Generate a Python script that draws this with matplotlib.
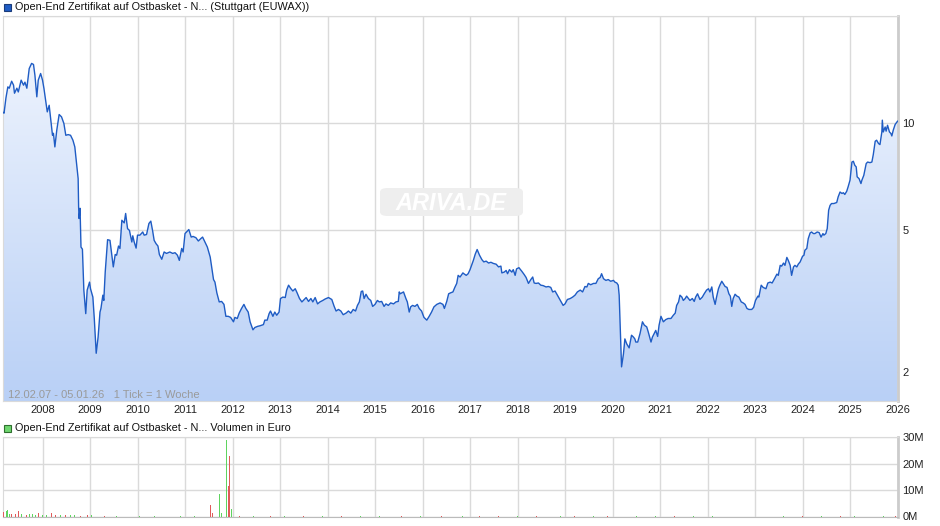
import numpy as np
import matplotlib
matplotlib.use('Agg')
import matplotlib.pyplot as plt
from matplotlib.colors import LinearSegmentedColormap
from matplotlib.patches import Rectangle, FancyBboxPatch

plt.rcParams['font.family'] = ['Liberation Sans', 'DejaVu Sans']

# weekly closing prices (decimal year, EUR)
years_07_10 = [2007.17, 2007.19, 2007.23, 2007.27, 2007.30, 2007.35, 2007.39, 2007.41, 2007.46, 2007.49, 2007.55, 2007.60, 2007.63, 2007.67, 2007.72, 2007.77, 2007.81, 2007.84, 2007.88, 2007.91, 2007.96,
               2008.00, 2008.03, 2008.07, 2008.10, 2008.14, 2008.18, 2008.21, 2008.23, 2008.26, 2008.30, 2008.35, 2008.40, 2008.45, 2008.49, 2008.54, 2008.59, 2008.64, 2008.68, 2008.72, 2008.75, 2008.76, 2008.77, 2008.79, 2008.81, 2008.84, 2008.87, 2008.91, 2008.94, 2008.99,
               2009.01, 2009.06, 2009.09, 2009.13, 2009.17, 2009.21, 2009.23, 2009.27, 2009.29, 2009.32, 2009.37, 2009.42, 2009.46, 2009.49, 2009.53, 2009.56, 2009.60, 2009.63, 2009.67, 2009.72, 2009.75, 2009.79, 2009.83, 2009.88, 2009.90, 2009.93, 2009.97,
               2010.00, 2010.05, 2010.11, 2010.14, 2010.19, 2010.24, 2010.28, 2010.32, 2010.35, 2010.39, 2010.43, 2010.46, 2010.51, 2010.56, 2010.61, 2010.68, 2010.74, 2010.79, 2010.84, 2010.88, 2010.93, 2010.96]
price_07_10 = [10.72, 10.67, 11.78, 12.65, 12.54, 13.12, 12.79, 12.14, 12.54, 12.24, 13.21, 12.79, 13.04, 12.54, 14.24, 14.72, 14.62, 13.64, 11.86, 13.21, 13.79,
               13.21, 12.52, 11.48, 10.76, 11.23, 10.08, 9.25, 9.37, 8.58, 9.56, 10.58, 10.42, 9.98, 9.25, 9.29, 9.25, 8.96, 8.58, 7.62, 6.99, 5.82, 5.40, 5.77, 4.49, 4.43, 3.40, 2.92, 3.40, 3.58,
               3.43, 3.25, 2.83, 2.26, 2.51, 2.95, 3.02, 3.29, 3.18, 3.82, 4.71, 4.69, 4.26, 3.95, 4.28, 4.26, 4.52, 4.45, 5.34, 5.25, 5.58, 5.06, 5.00, 4.64, 4.83, 4.64, 4.46,
               4.85, 4.85, 4.95, 4.85, 4.87, 5.23, 5.31, 4.97, 4.69, 4.59, 4.52, 4.28, 4.15, 4.35, 4.31, 4.35, 4.31, 4.33, 4.26, 4.12, 4.45, 4.35]

years_11_15 = [2011.00, 2011.05, 2011.08, 2011.13, 2011.17, 2011.23, 2011.28, 2011.33, 2011.37, 2011.42, 2011.47, 2011.53, 2011.56, 2011.60, 2011.63, 2011.67, 2011.72, 2011.77, 2011.82, 2011.86, 2011.91, 2011.96,
               2012.02, 2012.05, 2012.10, 2012.14, 2012.19, 2012.24, 2012.28, 2012.33, 2012.37, 2012.43, 2012.47, 2012.53, 2012.58, 2012.65, 2012.68, 2012.73, 2012.77, 2012.80, 2012.85, 2012.89, 2012.93, 2012.98,
               2013.01, 2013.06, 2013.11, 2013.14, 2013.18, 2013.23, 2013.27, 2013.32, 2013.36, 2013.41, 2013.46, 2013.51, 2013.55, 2013.60, 2013.65, 2013.69, 2013.74, 2013.79, 2013.84, 2013.90, 2013.95,
               2014.02, 2014.09, 2014.14, 2014.18, 2014.23, 2014.28, 2014.33, 2014.39, 2014.44, 2014.49, 2014.54, 2014.59, 2014.63, 2014.67, 2014.71, 2014.74, 2014.77, 2014.81, 2014.86, 2014.91, 2014.95,
               2015.00, 2015.05, 2015.09, 2015.14, 2015.19, 2015.23, 2015.28, 2015.33, 2015.39, 2015.44, 2015.49, 2015.51, 2015.53, 2015.60, 2015.65, 2015.68, 2015.72, 2015.75, 2015.79, 2015.84, 2015.89, 2015.93, 2015.98]
price_11_15 = [4.90, 4.98, 5.03, 4.79, 4.81, 4.77, 4.67, 4.74, 4.79, 4.64, 4.49, 4.21, 3.95, 3.64, 3.58, 3.34, 3.15, 3.16, 3.10, 2.87, 2.87, 2.85,
               2.77, 2.85, 2.83, 2.93, 3.02, 3.10, 3.02, 2.95, 2.77, 2.63, 2.67, 2.69, 2.70, 2.72, 2.80, 2.80, 2.92, 2.97, 2.87, 2.95, 2.89, 2.95,
               3.22, 3.25, 3.24, 3.40, 3.51, 3.43, 3.38, 3.43, 3.34, 3.22, 3.15, 3.20, 3.24, 3.16, 3.22, 3.15, 3.24, 3.11, 3.15, 3.18, 3.21,
               3.24, 3.20, 3.06, 2.97, 3.00, 2.97, 2.90, 2.93, 2.97, 2.93, 3.00, 2.97, 3.08, 3.15, 3.37, 3.38, 3.22, 3.31, 3.22, 3.18, 3.06,
               3.10, 3.18, 3.15, 3.16, 3.06, 3.11, 3.08, 3.13, 3.11, 3.15, 3.16, 3.36, 3.32, 3.36, 3.22, 3.15, 2.95, 3.05, 3.08, 3.06, 3.10, 3.02, 2.97]

years_16_20 = [2016.03, 2016.09, 2016.14, 2016.19, 2016.24, 2016.30, 2016.37, 2016.43, 2016.46, 2016.51, 2016.55, 2016.59, 2016.64, 2016.68, 2016.72, 2016.75, 2016.79, 2016.85, 2016.87, 2016.92, 2016.96,
               2017.00, 2017.04, 2017.07, 2017.11, 2017.15, 2017.20, 2017.25, 2017.29, 2017.34, 2017.39, 2017.44, 2017.49, 2017.55, 2017.60, 2017.65, 2017.67, 2017.72, 2017.76, 2017.79, 2017.83, 2017.88, 2017.91, 2017.95, 2017.98,
               2018.03, 2018.09, 2018.14, 2018.18, 2018.23, 2018.28, 2018.32, 2018.35, 2018.39, 2018.44, 2018.49, 2018.54, 2018.60, 2018.65, 2018.70, 2018.74, 2018.79, 2018.84, 2018.88, 2018.93, 2018.96,
               2019.00, 2019.05, 2019.11, 2019.16, 2019.21, 2019.26, 2019.32, 2019.37, 2019.42, 2019.46, 2019.49, 2019.54, 2019.60, 2019.65, 2019.70, 2019.74, 2019.77, 2019.81, 2019.86, 2019.91, 2019.96,
               2020.02, 2020.05, 2020.09, 2020.12, 2020.14, 2020.16, 2020.19, 2020.23, 2020.26, 2020.30, 2020.35, 2020.40, 2020.44, 2020.47, 2020.49, 2020.53, 2020.58, 2020.63, 2020.67, 2020.72, 2020.75, 2020.81, 2020.84, 2020.88, 2020.91, 2020.95, 2020.98]
price_16_20 = [2.85, 2.80, 2.87, 2.95, 3.05, 3.10, 3.13, 3.10, 3.02, 3.16, 3.32, 3.34, 3.36, 3.46, 3.55, 3.74, 3.70, 3.80, 3.78, 3.74, 3.78,
               3.88, 4.02, 4.12, 4.29, 4.42, 4.26, 4.14, 4.08, 4.10, 4.05, 4.07, 4.04, 4.02, 3.95, 3.97, 3.80, 3.82, 3.86, 3.78, 3.88, 3.82, 3.88, 3.74, 3.90,
               3.93, 3.84, 3.76, 3.69, 3.55, 3.64, 3.70, 3.56, 3.55, 3.56, 3.51, 3.50, 3.47, 3.48, 3.46, 3.36, 3.38, 3.29, 3.22, 3.13, 3.08,
               3.11, 3.20, 3.22, 3.25, 3.29, 3.36, 3.40, 3.36, 3.48, 3.47, 3.55, 3.52, 3.55, 3.55, 3.66, 3.69, 3.78, 3.66, 3.62, 3.64, 3.60,
               3.62, 3.58, 3.56, 3.51, 3.29, 2.74, 2.07, 2.25, 2.48, 2.40, 2.34, 2.54, 2.51, 2.48, 2.43, 2.43, 2.57, 2.77, 2.71, 2.68, 2.60, 2.43, 2.51, 2.57, 2.62, 2.52, 2.71]

years_21_26 = [2021.02, 2021.07, 2021.12, 2021.17, 2021.23, 2021.28, 2021.32, 2021.35, 2021.39, 2021.42, 2021.46, 2021.49, 2021.53, 2021.56, 2021.60, 2021.63, 2021.68, 2021.72, 2021.75, 2021.79, 2021.84, 2021.89, 2021.93, 2021.98,
               2022.02, 2022.05, 2022.09, 2022.12, 2022.16, 2022.19, 2022.23, 2022.26, 2022.30, 2022.33, 2022.37, 2022.41, 2022.45, 2022.48, 2022.51, 2022.54, 2022.58, 2022.62, 2022.66, 2022.71, 2022.75, 2022.79, 2022.83, 2022.87, 2022.93, 2022.97,
               2023.01, 2023.06, 2023.08, 2023.13, 2023.17, 2023.23, 2023.27, 2023.32, 2023.36, 2023.41, 2023.46, 2023.49, 2023.53, 2023.56, 2023.60, 2023.63, 2023.67, 2023.70, 2023.74, 2023.77, 2023.81, 2023.84, 2023.88, 2023.91, 2023.95,
               2024.00, 2024.03, 2024.05, 2024.09, 2024.12, 2024.16, 2024.19, 2024.23, 2024.26, 2024.31, 2024.35, 2024.39, 2024.43, 2024.45, 2024.49, 2024.52, 2024.55, 2024.58, 2024.61, 2024.66, 2024.72, 2024.75, 2024.79, 2024.83, 2024.86, 2024.89, 2024.93, 2024.96,
               2025.00, 2025.04, 2025.07, 2025.10, 2025.13, 2025.15, 2025.19, 2025.23, 2025.25, 2025.29, 2025.34, 2025.37, 2025.42, 2025.46, 2025.49, 2025.53, 2025.56, 2025.60, 2025.63, 2025.67, 2025.68, 2025.70, 2025.74, 2025.76, 2025.79, 2025.83, 2025.86, 2025.88, 2025.91, 2025.95, 2026.00]
price_21_26 = [2.87, 2.77, 2.81, 2.83, 2.83, 2.89, 2.93, 3.08, 3.15, 3.29, 3.25, 3.18, 3.22, 3.27, 3.22, 3.18, 3.22, 3.16, 3.25, 3.32, 3.20, 3.25, 3.32, 3.40,
               3.43, 3.36, 3.47, 3.25, 3.10, 3.25, 3.43, 3.51, 3.60, 3.55, 3.48, 3.46, 3.32, 3.27, 3.06, 3.22, 3.31, 3.27, 3.25, 3.15, 3.13, 3.10, 3.02, 3.00, 3.00, 3.04,
               3.18, 3.27, 3.25, 3.51, 3.46, 3.43, 3.56, 3.58, 3.56, 3.66, 3.77, 3.74, 3.99, 3.97, 4.05, 3.99, 4.20, 4.12, 3.99, 3.74, 3.95, 3.99, 3.95, 4.02, 4.08,
               4.23, 4.26, 4.40, 4.45, 4.74, 4.92, 4.95, 4.90, 4.90, 4.95, 4.93, 4.79, 4.90, 4.85, 4.90, 5.06, 5.70, 5.88, 5.95, 5.95, 5.99, 6.21, 6.41, 6.35, 6.38, 6.31, 6.44, 6.63,
               6.92, 7.78, 7.82, 7.62, 7.54, 7.07, 6.99, 6.77, 6.92, 7.14, 7.70, 7.78, 7.75, 7.78, 8.17, 8.90, 8.96, 8.77, 8.71, 9.45, 10.20, 9.45, 9.76, 9.50, 9.87, 9.45, 9.36, 9.21, 9.56, 9.92, 10.13]

# weekly volume in million EUR, 'g' = up week, 'r' = down week
vol_years = [2007.18, 2007.21, 2007.24, 2007.27, 2007.31, 2007.35, 2007.40, 2007.44, 2007.50, 2007.55, 2007.61, 2007.67, 2007.73, 2007.79, 2007.85, 2007.92,
             2008.00, 2008.08, 2008.18, 2008.28, 2008.38, 2008.48, 2008.58, 2008.68, 2008.80, 2008.95, 2009.04, 2009.30, 2009.55, 2009.80, 2010.05, 2010.35, 2010.60, 2010.90, 2011.20,
             2011.53, 2011.57, 2011.72, 2011.76, 2011.88, 2011.92, 2011.945, 2011.975,
             2012.15, 2012.45, 2012.80, 2013.10, 2013.50, 2013.90, 2014.30, 2014.70, 2015.10, 2015.55, 2015.95, 2016.40, 2016.85, 2017.20, 2017.60, 2018.00,
             2018.40, 2018.90, 2019.20, 2019.60, 2019.90, 2020.20, 2020.50, 2020.90, 2021.30, 2021.70, 2022.10, 2022.60, 2023.00, 2023.60, 2024.00, 2024.40,
             2024.80, 2025.10, 2025.40, 2025.70, 2025.95]
vol_m = [1.6, 1.2, 2.0, 2.3, 0.8, 1.0, 0.7, 0.9, 1.9, 0.8, 1.1, 0.6, 0.9, 1.0, 0.5,
         1.3, 0.4, 0.4, 1.2, 0.5, 0.6, 0.4, 0.5, 0.7, 0.3, 0.4, 0.4, 0.3, 0.3, 0.3, 0.3, 0.3, 0.3, 0.3, 0.3,
         4.2, 1.5, 8.4, 1.3, 29.0, 11.4, 22.8, 3.0,
         0.3, 0.3, 0.3, 0.3, 0.3, 0.3, 0.3, 0.3, 0.3, 0.3, 0.3, 0.3, 0.3, 0.3, 0.3, 0.3,
         0.3, 0.3, 0.3, 0.3, 0.3, 0.4, 0.3, 0.3, 0.3, 0.3, 0.3, 0.3, 0.3, 0.3, 0.3, 0.3,
         0.3, 0.3, 0.3, 0.3, 0.3]
vol_dir = ['r', 'g', 'g', 'g', 'g', 'r', 'g', 'r', 'r', 'g', 'g', 'r', 'g', 'g', 'g', 'r',
           'g', 'g', 'r', 'r', 'g', 'r', 'g', 'g', 'r', 'r', 'g', 'r', 'g', 'r', 'g', 'g', 'r', 'g', 'g',
           'r', 'r', 'g', 'g', 'g', 'r', 'r', 'g',
           'r', 'g', 'r', 'g', 'r', 'g', 'r', 'g', 'g', 'r', 'g', 'r', 'g', 'r', 'r', 'g',
           'r', 'g', 'r', 'g', 'r', 'r', 'g', 'g', 'r', 'g', 'g', 'r', 'g', 'g', 'r', 'g',
           'r', 'g', 'r', 'g', 'r']

year_ticks = list(range(2008, 2027))
price_ticks = [2, 5, 10]
vol_ticks = [0, 10, 20, 30]

years = np.array(years_07_10 + years_11_15 + years_16_20 + years_21_26)
price = np.array(price_07_10 + price_11_15 + price_16_20 + price_21_26)

grid_c = '#dadada'
line_c = '#1f5cc4'
fs = 8.0
x0, x1 = 2007.168, 2026.01

fig = plt.figure(figsize=(9.4, 5.26), dpi=100)
ax = fig.add_axes([3 / 940, 125 / 526, 895 / 940, 385 / 526])
axv = fig.add_axes([3 / 940, 9.5 / 526, 895 / 940, 79.5 / 526])

# --- price panel
ax.set_yscale('log')
cm = LinearSegmentedColormap.from_list('fillgrad', ['#b9d0f6', '#f3f7fe'])
grad = np.linspace(0, 1, 256).reshape(-1, 1)
img = ax.imshow(grad, cmap=cm, aspect='auto', extent=[0, 1, 0, 1],
                transform=ax.transAxes, origin='lower', zorder=1)
poly = ax.fill_between(years, price, 1.0, color='none', lw=0)
img.set_clip_path(poly.get_paths()[0], transform=ax.transData)
ax.plot(years, price, color=line_c, lw=1.0, zorder=3)

ax.set_xlim(x0, x1)
ax.set_ylim(1.66, 20)
ax.minorticks_off()
ax.set_xticks(year_ticks)
ax.set_xticklabels([str(y) for y in year_ticks], fontsize=fs, color='#222222')
ax.set_yticks(price_ticks + [20])
ax.set_yticklabels([str(p) for p in price_ticks] + [''], fontsize=fs, color='#222222')
ax.yaxis.tick_right()
ax.tick_params(length=0, pad=3)
ax.tick_params(axis='y', pad=3)
ax.grid(color=grid_c, lw=1, zorder=0)
ax.set_axisbelow(True)
for s in ['left', 'top', 'bottom']:
    ax.spines[s].set_color(grid_c)
ax.spines['right'].set_color('#cccccc')
ax.spines['right'].set_linewidth(2)

ax.text(5 / 895, 6 / 385, '12.02.07 - 05.01.26   1 Tick = 1 Woche', transform=ax.transAxes,
        fontsize=fs, color='#9a9a9a', va='center', ha='left', zorder=4)

# watermark
fig.patches.append(FancyBboxPatch((380 / 940, (526 - 216) / 526), 143 / 940, 28 / 526,
                                  boxstyle='round,pad=0,rounding_size=0.008',
                                  transform=fig.transFigure, fc='#eeeeee', ec='none', zorder=2))
fig.text(451 / 940, (526 - 203) / 526, 'ARIVA.DE', fontsize=17, fontweight='bold', style='italic',
         color='white', ha='center', va='center', zorder=3)

# --- volume panel
bar_cols = ['#5fd45f' if d == 'g' else '#e05a5a' for d in vol_dir]
axv.bar(vol_years, vol_m, width=0.02, color=bar_cols, lw=0, zorder=3)
axv.set_xlim(x0, x1)
axv.set_ylim(0, 30)
axv.set_xticks(year_ticks)
axv.set_xticklabels([])
axv.set_yticks(vol_ticks)
axv.set_yticklabels(['{}M'.format(v) for v in vol_ticks], fontsize=fs, color='#222222')
axv.yaxis.tick_right()
axv.tick_params(length=0, pad=3)
axv.grid(color=grid_c, lw=1, zorder=0)
axv.set_axisbelow(True)
for s in ['left', 'top', 'bottom']:
    axv.spines[s].set_color(grid_c)
axv.spines['bottom'].set_color('#bbbbbb')
axv.spines['right'].set_color('#cccccc')
axv.spines['right'].set_linewidth(2)

# --- headers
hfs = 7.8
fig.patches.append(Rectangle((4 / 940, (526 - 11) / 526), 7 / 940, 7 / 526, transform=fig.transFigure,
                             fc=line_c, ec='#1a3b7a', lw=0.8))
fig.text(15 / 940, (526 - 7) / 526, 'Open-End Zertifikat auf Ostbasket - N... (Stuttgart (EUWAX))',
         fontsize=hfs, color='#111111', va='center', ha='left')
fig.patches.append(Rectangle((4 / 940, (526 - 432) / 526), 7 / 940, 7 / 526, transform=fig.transFigure,
                             fc='#6fd66f', ec='#2f6f2f', lw=0.8))
fig.text(15 / 940, (526 - 428) / 526, 'Open-End Zertifikat auf Ostbasket - N... Volumen in Euro',
         fontsize=hfs, color='#111111', va='center', ha='left')

fig.savefig('out.png', dpi=100)
